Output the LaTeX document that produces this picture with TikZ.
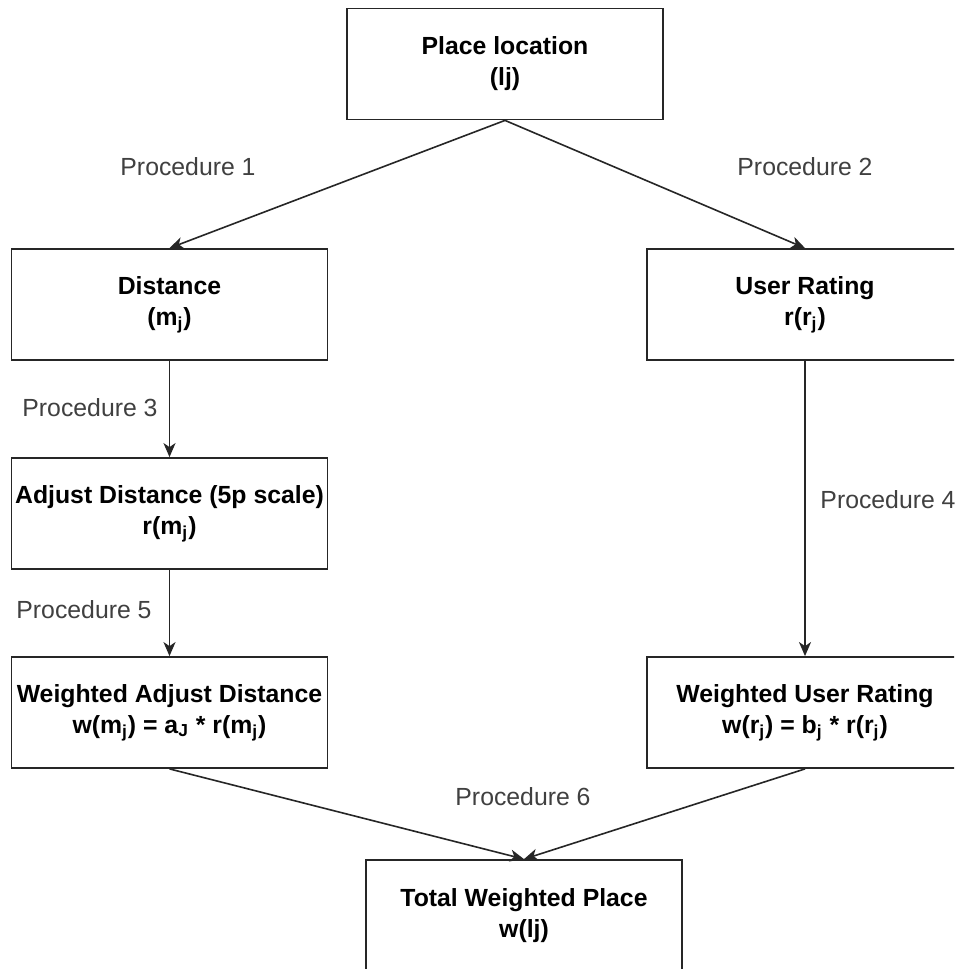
\documentclass[tikz,border=0pt]{standalone}
\usepackage{fontspec}
\setmainfont{Liberation Sans}
\usetikzlibrary{arrows.meta}
\begin{document}
\begin{tikzpicture}[x=0.5pt,y=-0.5pt,
  box/.style={draw=black!85, line width=0.9pt, minimum width=158pt, minimum height=55.5pt,
    align=center, inner sep=0pt, font=\fontsize{12.4}{15.5}\selectfont\bfseries},
  lbl/.style={text=black!75, inner sep=0pt, font=\fontsize{12.4}{15}\selectfont},
  conn/.style={draw=black!85, line width=0.8pt, -{Stealth[length=7pt,width=6pt,inset=2pt]}}]
\useasboundingbox (0,0) rectangle (954,969);
\clip (0,0) rectangle (954,969);
\fill[white] (0,0) rectangle (954,969);
\node[box] (top) at (505,64) {Place location\\(lj)};
\node[box] (dist) at (169.5,304.5) {Distance\\(m\textsubscript{j})};
\node[box] (ur) at (805,304.5) {User Rating\\r(r\textsubscript{j})};
\node[box] (adj) at (169.5,513.5) {Adjust Distance (5p scale)\\r(m\textsubscript{j})};
\node[box] (wad) at (169.5,712.5) {Weighted Adjust Distance\\w(m\textsubscript{j}) = a\textsubscript{J} * r(m\textsubscript{j})};
\node[box] (wur) at (805,712.5) {Weighted User Rating\\w(r\textsubscript{j}) = b\textsubscript{j} * r(r\textsubscript{j})};
\node[box] (tot) at (524,915.5) {Total Weighted Place\\w(lj)};
\draw[conn] (top.south) -- (dist.north);
\draw[conn] (top.south) -- (ur.north);
\draw[conn] (dist.south) -- (adj.north);
\draw[conn] (adj.south) -- (wad.north);
\draw[conn] (ur.south) -- (wur.north);
\draw[conn] (wad.south) -- (tot.north);
\draw[conn] (wur.south) -- (tot.north);
\node[lbl] (p1) at (188,167) {Procedure 1};
\node[lbl] (p2) at (805,167) {Procedure 2};
\node[lbl] (p3) at (90,408) {Procedure 3};
\node[lbl] (p4) at (888,500) {Procedure 4};
\node[lbl] (p5) at (84,610) {Procedure 5};
\node[lbl] (p6) at (523,797) {Procedure 6};
\end{tikzpicture}
\end{document}
